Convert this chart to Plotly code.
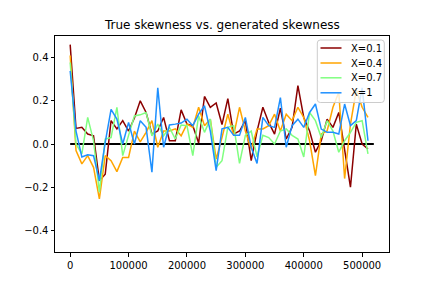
import plotly.graph_objects as go

steps = list(range(0, 520000, 10000))  # 52 sample positions
true_x = [0, 520000]
true_y = [0.0, 0.0]

skew_01 = [0.46, 0.072, 0.077, 0.046, 0.038, -0.17, -0.14, 0.108, 0.07, 0.108,
           0.06, 0.12, 0.2, 0.146, 0.046, 0.06, 0.123, 0.015, 0.015, 0.158,
           0.092, 0.085, 0.005, 0.22, 0.17, 0.19, 0.09, 0.21, 0.046, 0.06,
           0.108, -0.077, 0.06, 0.17, 0.1, 0.046, 0.166, 0.023, 0.077, 0.27,
           0.123, 0.06, -0.038, 0.015, 0.115, 0.077, 0.146, -0.03, -0.2, 0.092,
           0.0, -0.023]
skew_04 = [0.41, -0.03, -0.092, -0.054, -0.108, -0.254, -0.054, -0.077, -0.128, -0.062,
           -0.062, 0.06, 0.01, 0.054, 0.108, -0.015, 0.06, 0.06, 0.07, 0.038,
           0.092, 0.077, 0.17, 0.085, 0.115, -0.07, 0.03, 0.138, 0.04, 0.17,
           0.06, -0.023, 0.07, 0.07, 0.085, 0.138, 0.06, 0.138, 0.108, 0.17,
           0.123, 0.015, -0.146, 0.046, 0.06, 0.17, 0.24, -0.16, 0.092, 0.25,
           0.17, 0.123]
skew_07 = [0.377, 0.0, -0.046, 0.123, 0.015, -0.223, 0.023, 0.03, 0.17, -0.054,
           0.04, 0.13, 0.135, 0.146, 0.038, 0.092, 0.038, 0.077, 0.023, 0.088,
           0.085, -0.054, 0.13, 0.054, 0.115, -0.108, -0.077, 0.077, 0.085, -0.09,
           0.04, 0.06, -0.06, 0.04, 0.03, 0.0, 0.06, 0.07, 0.04, 0.023,
           -0.06, 0.146, 0.108, 0.03, 0.108, 0.06, -0.038, 0.015, 0.054, 0.1,
           0.108, -0.046]
skew_1 = [0.338, 0.06, -0.06, -0.05, -0.054, -0.17, 0.008, 0.16, 0.115, 0.0,
          0.1, 0.0, 0.108, 0.077, -0.13, 0.26, -0.015, 0.088, 0.092, 0.097,
          0.115, 0.085, 0.138, 0.177, 0.06, -0.123, 0.07, 0.077, 0.04, 0.04,
          0.123, -0.015, -0.09, 0.123, 0.085, 0.077, 0.215, -0.015, 0.085, 0.115,
          0.077, 0.146, 0.185, 0.069, 0.054, 0.054, 0.046, 0.185, 0.085, 0.108,
          0.26, 0.015]

series_names = ["X=0.1", "X=0.4", "X=0.7", "X=1"]
series_values = [skew_01, skew_04, skew_07, skew_1]
series_colors = ["#8b0000", "#ffa500", "#80ff80", "#1e90ff"]

W, H = 432, 288
ML, MR, MT, MB = 55, 43, 36, 36
PW, PH = W - ML - MR, H - MT - MB


def px_to_paper(px, py):
    return (px - ML) / PW, (H - MB - py) / PH


fig = go.Figure()
fig.add_trace(go.Scatter(x=true_x, y=true_y, mode="lines",
                         line=dict(color="black", width=2), showlegend=False))
for name, vals, color in zip(series_names, series_values, series_colors):
    fig.add_trace(go.Scatter(x=steps, y=vals, mode="lines", name=name,
                             line=dict(color=color, width=1.5), showlegend=False))

# matplotlib-style legend box (upper right)
bx0, by1 = px_to_paper(317.3, 40.0)
bx1, by0 = px_to_paper(384.3, 102.5)
rx, ry = 3.0 / PW, 3.0 / PH
path = (f"M {bx0+rx},{by1} L {bx1-rx},{by1} Q {bx1},{by1} {bx1},{by1-ry} "
        f"L {bx1},{by0+ry} Q {bx1},{by0} {bx1-rx},{by0} "
        f"L {bx0+rx},{by0} Q {bx0},{by0} {bx0},{by0+ry} "
        f"L {bx0},{by1-ry} Q {bx0},{by1} {bx0+rx},{by1} Z")
shapes = [dict(type="path", xref="paper", yref="paper", path=path,
               fillcolor="rgba(255,255,255,0.8)", line=dict(color="#cccccc", width=1),
               layer="above")]
annotations = []
row_y = [48.0, 63.0, 77.8, 92.8]
for name, color, ry_px in zip(series_names, series_colors, row_y):
    lx0, ly = px_to_paper(320.5, ry_px)
    lx1, _ = px_to_paper(341.5, ry_px)
    tx, _ = px_to_paper(349.0, ry_px)
    shapes.append(dict(type="line", xref="paper", yref="paper", x0=lx0, x1=lx1,
                       y0=ly, y1=ly, line=dict(color=color, width=1.5), layer="above"))
    annotations.append(dict(text=name, xref="paper", yref="paper", x=tx, y=ly,
                            xanchor="left", yanchor="middle", showarrow=False,
                            font=dict(family="DejaVu Sans", size=10, color="black")))

annotations.append(dict(text="True skewness vs. generated skewness", xref="paper",
                        yref="paper", x=0.5, y=1, xanchor="center", yanchor="bottom",
                        yshift=2, showarrow=False,
                        font=dict(family="DejaVu Sans", size=12, color="black")))

axis_common = dict(showgrid=False, zeroline=False, showline=True, linecolor="black",
                   linewidth=1, mirror=True, ticks="outside", ticklen=3.5,
                   tickwidth=0.8, tickcolor="black",
                   tickfont=dict(family="DejaVu Sans", size=10, color="black"))

fig.update_layout(
    width=W, height=H,
    margin=dict(l=ML, r=MR, t=MT, b=MB),
    paper_bgcolor="white", plot_bgcolor="white",
    showlegend=False,
    xaxis=dict(range=[-26000, 546000], tickvals=[0, 100000, 200000, 300000, 400000, 500000],
               ticktext=["0", "100000", "200000", "300000", "400000", "500000"], **axis_common),
    yaxis=dict(range=[-0.5, 0.5], tickvals=[-0.4, -0.2, 0.0, 0.2, 0.4],
               tickformat=".1f", **axis_common),
    shapes=shapes,
    annotations=annotations,
)

fig.write_html("out.html", config={"displayModeBar": False},
               post_script="document.body.style.margin='0';")
